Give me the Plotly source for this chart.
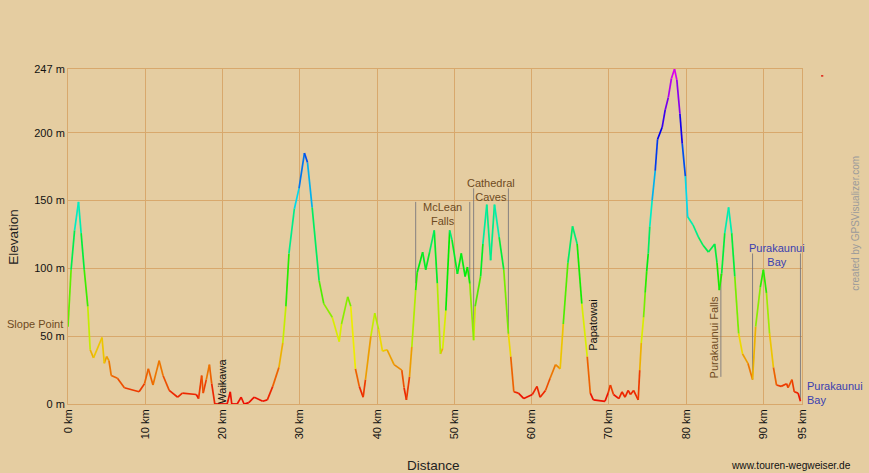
import colorsys
import plotly.graph_objects as go

# ---- profile data (km, m) ----
dist_km = [0.0, 0.4, 0.85, 1.36, 1.7, 2.1, 2.56, 2.87, 3.3, 4.4, 4.7, 5.0, 5.3, 5.6, 6.4, 7.3, 9.2, 9.9, 10.4, 11.0,
           11.8, 12.3, 13.1, 14.2, 14.8, 16.6, 16.9, 17.3, 17.5, 17.9, 18.3, 18.6, 19.0, 20.6, 21.0, 21.2, 21.9, 22.4,
           22.8, 23.4, 24.1, 25.2, 25.8, 26.5, 27.3, 27.8, 28.2, 28.6, 29.3, 29.9, 30.6, 31.0, 31.6, 32.5, 33.1, 34.2,
           35.1, 35.4, 36.2, 36.6, 37.2, 37.7, 38.2, 38.5, 39.2, 39.7, 40.2, 40.7, 41.3, 42.2, 43.2, 43.5, 43.8, 44.2,
           44.5, 45.0, 45.2, 45.9, 46.3, 46.8, 47.4, 47.8, 48.2, 48.5, 48.9, 49.4, 49.7, 50.4, 50.9, 51.4, 51.7, 52.0,
           52.5, 52.7, 53.4, 53.7, 54.2, 54.7, 55.2, 55.8, 56.4, 57.0, 57.3, 57.7, 58.3, 59.0, 60.1, 60.7, 61.1, 61.8,
           62.4, 63.1, 63.7, 64.1, 64.7, 65.3, 65.9, 66.5, 67.2, 67.6, 68.0, 69.5, 69.9, 70.2, 70.6, 71.3, 71.7, 72.1,
           72.5, 72.8, 73.2, 73.8, 74.0, 74.2, 74.5, 74.7, 74.9, 75.1, 75.3, 75.6, 76.0, 76.3, 76.9, 77.3, 77.7, 78.1,
           78.5, 78.8, 79.2, 79.5, 79.9, 80.2, 80.9, 81.6, 82.2, 82.9, 83.7, 84.0, 84.3, 84.6, 85.0, 85.5, 85.9, 86.3,
           86.8, 87.3, 88.0, 88.6, 89.0, 89.6, 90.0, 90.4, 90.8, 91.3, 91.7, 92.3, 93.0, 93.2, 93.7, 94.0, 94.5, 94.8]
elev_m = [57, 99, 128, 149, 126, 99, 72, 40, 34, 49, 30, 35, 32, 21, 19, 12, 9, 15, 26, 14,
          32, 21, 10, 5, 8, 7, 4, 21, 8, 18, 29, 15, 0, 0, 9, 0, 0, 5,
          0, 1, 5, 2, 3, 13, 27, 45, 72, 111, 144, 159, 185, 178, 145, 91, 74, 64,
          46, 59, 79, 72, 26, 13, 5, 18, 50, 67, 55, 39, 40, 29, 25, 12, 3, 20,
          42, 84, 97, 112, 99, 112, 128, 89, 37, 41, 69, 128, 121, 96, 111, 94, 101, 89,
          47, 72, 94, 118, 147, 106, 147, 123, 99, 52, 35, 9, 8, 4, 7, 13, 5, 10,
          19, 29, 26, 59, 104, 131, 118, 74, 35, 8, 3, 2, 8, 14, 7, 4, 9, 5,
          10, 7, 10, 3, 25, 45, 64, 82, 98, 111, 131, 150, 172, 195, 204, 217, 226, 240,
          247, 239, 214, 192, 168, 138, 132, 123, 117, 112, 118, 104, 84, 96, 126, 145, 126, 94,
          52, 37, 30, 18, 57, 86, 99, 82, 52, 27, 14, 13, 15, 12, 18, 9, 8, 2]

y_ticks = [0, 50, 100, 150, 200, 247]
x_ticks = [0, 10, 20, 30, 40, 50, 60, 70, 80, 90, 95]

# waypoint guide lines: km, low m, high m
wp_km = [45.0, 52.0, 52.5, 57.0, 84.5, 88.6, 94.8]
wp_low = [89, 88, 52, 51, 20, 18, 3]
wp_high = [149, 149, 159, 159, 96, 111, 111]

Y_MAX = 247
X_MAX = 95


def elev_color(m):
    h = max(0.0, min(1.0, m / Y_MAX)) * 300.0 / 360.0
    r, g, b = colorsys.hsv_to_rgb(h, 1.0, 0.93)
    return "rgb(%d,%d,%d)" % (r * 255, g * 255, b * 255)


fig = go.Figure()

# waypoint lines
for k, lo, hi in zip(wp_km, wp_low, wp_high):
    fig.add_trace(go.Scatter(x=[k, k], y=[lo, hi], mode="lines",
                             line=dict(color="rgba(110,110,120,0.8)", width=1),
                             hoverinfo="skip", showlegend=False))

# elevation profile, segment colored by elevation
NB = 60
bins = {}
for i in range(len(dist_km) - 1):
    mid = (elev_m[i] + elev_m[i + 1]) / 2.0
    b = int(round(mid / Y_MAX * NB))
    xs, ys = bins.setdefault(b, ([], []))
    xs += [dist_km[i], dist_km[i + 1], None]
    ys += [elev_m[i], elev_m[i + 1], None]
for b, (xs, ys) in sorted(bins.items()):
    fig.add_trace(go.Scatter(x=xs, y=ys, mode="lines",
                             line=dict(color=elev_color(b / NB * Y_MAX), width=1.7),
                             hoverinfo="skip", showlegend=False))

FONT = "Arial, Liberation Sans, sans-serif"
BROWN = "#6e4a22"
BLUE = "#3a40b0"
LS = 11

ann = []


def A(**kw):
    d = dict(showarrow=False, font=dict(family=FONT, size=LS, color=BROWN))
    d.update(kw)
    ann.append(d)


A(text="Slope Point", xref="paper", x=0, xanchor="right", xshift=-3, y=59, yref="y")
A(text="McLean<br>Falls", x=48.5, y=140)
A(text="Cathedral<br>Caves", x=54.7, y=158)
A(text="Waikawa", x=19.9, y=17, textangle=-90, font=dict(family=FONT, size=LS, color="#111"))
A(text="Papatowai", x=68.0, y=58, textangle=-90, font=dict(family=FONT, size=LS, color="#111"))
A(text="Purakaunui Falls", x=83.6, y=49, textangle=-90)
A(text="Purakaunui<br>Bay", x=91.8, y=110, font=dict(family=FONT, size=LS, color=BLUE))
A(text="Purakaunui<br>Bay", x=95, y=8, xanchor="left", xshift=3, align="left",
  font=dict(family=FONT, size=LS, color=BLUE))
A(text="Elevation", xref="paper", yref="paper", x=-0.0745, y=0.5, xanchor="center", textangle=-90,
  font=dict(family=FONT, size=13.5, color="#222"))
A(text="Distance", xref="paper", yref="paper", x=0.498, y=-0.185, yanchor="middle",
  font=dict(family=FONT, size=13.5, color="#222"))
A(text="www.touren-wegweiser.de", xref="paper", yref="paper", x=1.0695, xanchor="right",
  y=-0.183, yanchor="middle", font=dict(family=FONT, size=10.2, color="#111"))
A(text="created by GPSVisualizer.com", xref="paper", yref="paper", x=1.082, y=0.54, textangle=-90,
  font=dict(family=FONT, size=10, color="#9a9a9a"))

GRID = "#d8a86c"
BG = "#e5cda1"

fig.update_layout(
    width=869, height=473,
    margin=dict(l=68, r=67, t=69, b=69),
    paper_bgcolor=BG, plot_bgcolor=BG,
    font=dict(family=FONT, size=11, color="#111"),
    annotations=ann,
    shapes=[dict(type="rect", xref="paper", yref="paper", x0=1.026, x1=1.029, y0=0.977, y1=0.982,
                 fillcolor="#e03020", line=dict(width=0))],
    xaxis=dict(range=[0, X_MAX], tickvals=x_ticks, ticktext=["%d km" % v for v in x_ticks],
               tickangle=-90, showgrid=True, gridcolor=GRID, gridwidth=1, zeroline=False,
               showline=True, linecolor=GRID, mirror=True, ticks="", fixedrange=True),
    yaxis=dict(range=[0, Y_MAX], tickvals=y_ticks, ticktext=["%d m" % v for v in y_ticks],
               showgrid=True, gridcolor=GRID, gridwidth=1, zeroline=False,
               showline=True, linecolor=GRID, mirror=True, ticks="", fixedrange=True),
)

fig.write_html("out.html")
